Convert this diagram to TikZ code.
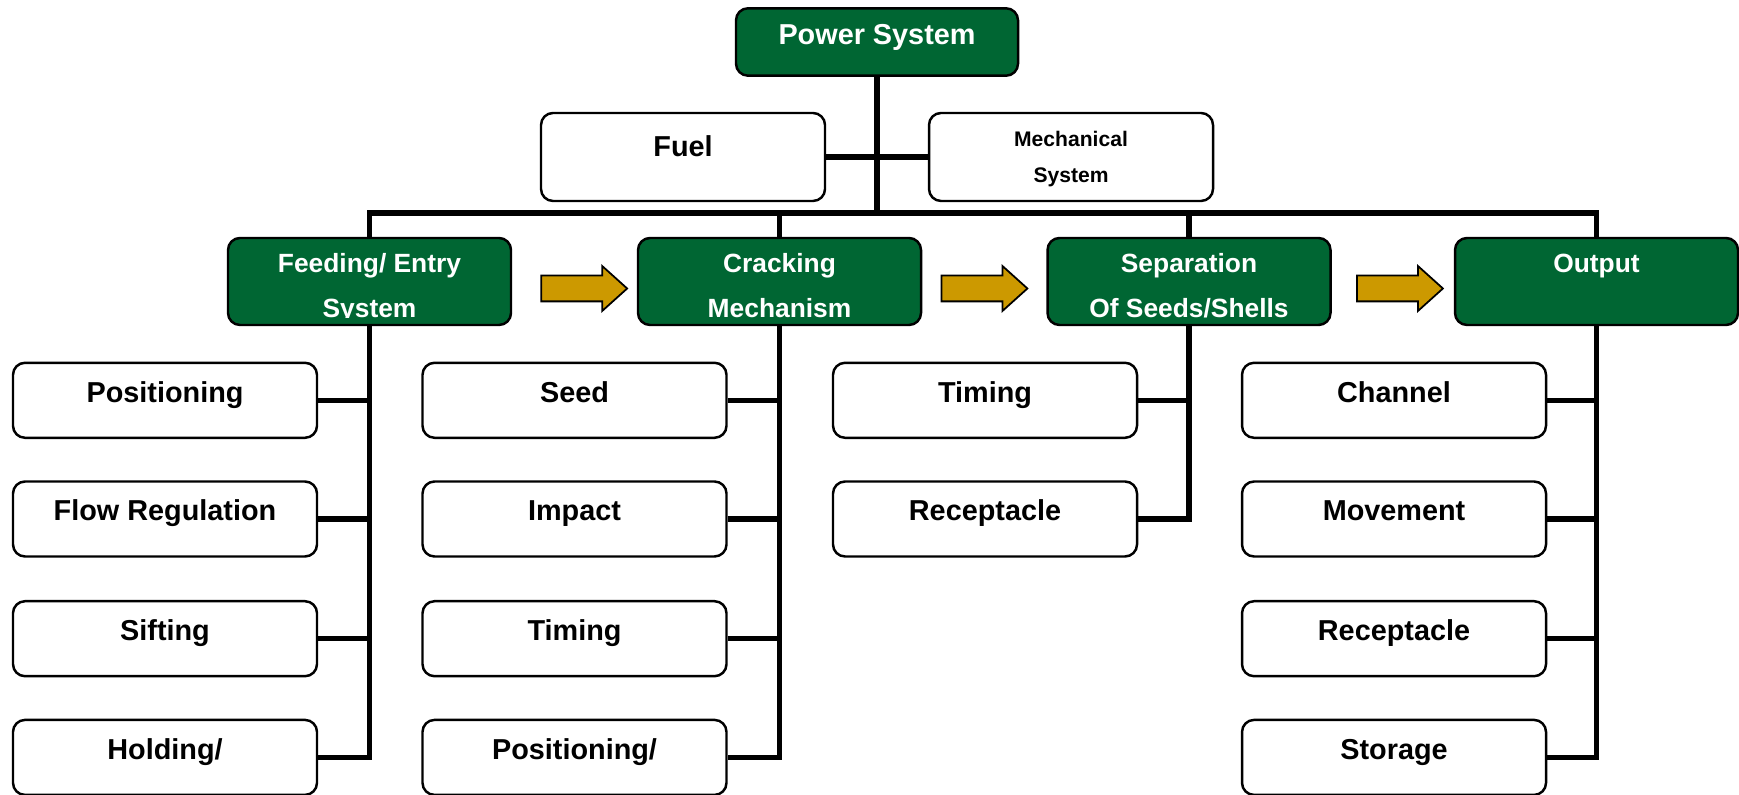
\documentclass[tikz,border=0pt]{standalone}
\usepackage{fontspec}
\setmainfont{Liberation Sans}
\usetikzlibrary{calc,shapes.arrows}
\definecolor{CSGreen}{HTML}{006633}
\definecolor{CSGold}{HTML}{CC9900}
\tikzset{
  wire/.style={line width=1.5pt},
  stage/.style={draw=black,line width=0.7pt,fill=CSGreen,rounded corners=1.2mm,
                minimum width=2.83cm,minimum height=0.87cm},
  stagetext/.style={text=white,font=\fontsize{7.5}{12.8}\selectfont\bfseries,
                    align=center,inner sep=0pt,anchor=north},
  head/.style={stage,text=white,font=\fontsize{8.2}{10}\selectfont\bfseries,
               minimum width=2.82cm,minimum height=0.66cm,
               text height=0.25cm,text depth=0.19cm},
  box/.style={draw=black,line width=0.7pt,fill=white,rounded corners=1.2mm,
              font=\fontsize{8.2}{10}\selectfont\bfseries,align=center},
  side/.style={box,minimum width=2.84cm,minimum height=0.88cm},
  sidetext/.style={font=\fontsize{6}{10}\selectfont\bfseries,align=center,inner sep=0pt},
  part/.style={box,minimum width=3.04cm,minimum height=0.75cm,
               text height=0.24cm,text depth=0.2cm},
  push/.style={single arrow,draw=black,line width=0.5pt,fill=CSGold,
               inner xsep=0pt,inner ysep=0.12cm,
               minimum height=0.86cm,minimum width=0.43cm,
               single arrow head extend=0.095cm,single arrow tip angle=84},
}
\newcommand{\stagebox}[4]{%
  \node[stage] (#1) at (#2,#3) {};
  \begin{scope}
    \clip ($(#1.south west)+(0,0.09)$) rectangle (#1.north east);
    \node[stagetext] (#1-text) at ($(#1.north)+(0,-0.035)$) {\strut #4};
  \end{scope}%
}

\begin{document}
\begin{tikzpicture}
    \clip (0,0) rectangle (17.39,7.94);
    % power source and its two inputs
    \node[head] (power) at (8.77,7.52) {Power System};
    \node[side,text height=0.22cm,text depth=0.22cm] (fuel) at (6.83,6.37) {Fuel};
    \node[side] (mech) at (10.71,6.37) {};
    \node[sidetext] (mech-text) at ($(mech)+(0,-0.02)$) {Mechanical\\System};

    % the four stages
    \stagebox{feed}{3.695}{5.125}{Feeding/ Entry\\System}
    \stagebox{crack}{7.795}{5.125}{Cracking\\Mechanism}
    \stagebox{sep}{11.89}{5.125}{Separation\\Of Seeds/Shells}
    \stagebox{out}{15.965}{5.125}{Output}

    \node[push] (push1) at ($(feed.east)!0.5!(crack.west)+(0.025,-0.07)$) {};
    \node[push] (push2) at ($(crack.east)!0.5!(sep.west)+(-0.07,-0.07)$) {};
    \node[push] (push3) at ($(sep.east)!0.5!(out.west)+(0,-0.07)$) {};

    % parts of each stage
    \node[part] (f1) at (1.65,3.937) {Positioning};
    \node[part] (f2) at (1.65,2.75) {Flow Regulation};
    \node[part] (f3) at (1.65,1.553) {Sifting};
    \node[part] (f4) at (1.65,0.366) {Holding/};
    \node[part] (c1) at (5.745,3.937) {Seed};
    \node[part] (c2) at (5.745,2.75) {Impact};
    \node[part] (c3) at (5.745,1.553) {Timing};
    \node[part] (c4) at (5.745,0.366) {Positioning/};
    \node[part] (s1) at (9.85,3.937) {Timing};
    \node[part] (s2) at (9.85,2.75) {Receptacle};
    \node[part] (o1) at (13.94,3.937) {Channel};
    \node[part] (o2) at (13.94,2.75) {Movement};
    \node[part] (o3) at (13.94,1.553) {Receptacle};
    \node[part] (o4) at (13.94,0.366) {Storage};

    % tree lines
    \coordinate (bus) at (8.77,5.81);
    \draw[wire] (power.south) -- (bus);
    \draw[wire] (fuel.east) -- (mech.west);
    \draw[wire] (feed.north) -- (feed.north |- bus) -- (out.north |- bus) -- (out.north);
    \draw[wire] (crack.north) -- (crack.north |- bus);
    \draw[wire] (sep.north) -- (sep.north |- bus);

    \draw[wire] (feed.south) |- (f4.east);
    \draw[wire] (f1.east) -- (f1.east -| feed.south);
    \draw[wire] (f2.east) -- (f2.east -| feed.south);
    \draw[wire] (f3.east) -- (f3.east -| feed.south);
    \draw[wire] (crack.south) |- (c4.east);
    \draw[wire] (c1.east) -- (c1.east -| crack.south);
    \draw[wire] (c2.east) -- (c2.east -| crack.south);
    \draw[wire] (c3.east) -- (c3.east -| crack.south);
    \draw[wire] (sep.south) |- (s2.east);
    \draw[wire] (s1.east) -- (s1.east -| sep.south);
    \draw[wire] (out.south) |- (o4.east);
    \draw[wire] (o1.east) -- (o1.east -| out.south);
    \draw[wire] (o2.east) -- (o2.east -| out.south);
    \draw[wire] (o3.east) -- (o3.east -| out.south);
\end{tikzpicture}
\end{document}
